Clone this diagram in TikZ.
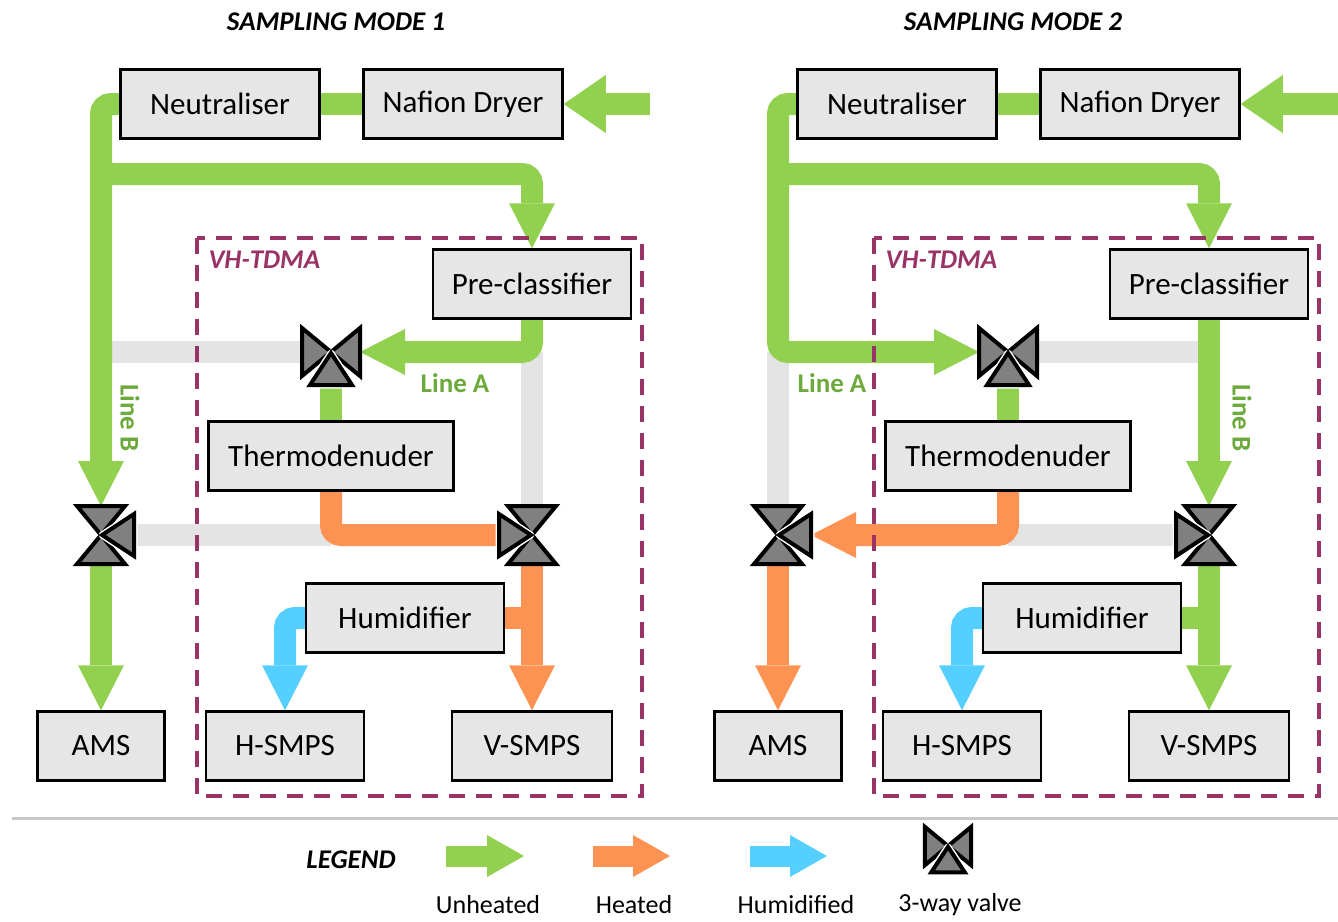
\documentclass[tikz,border=0pt]{standalone}
\usepackage{fontspec}
\setmainfont{Carlito}
\usepackage{tikz}
\usetikzlibrary{positioning,arrows.meta,calc}
\usepackage{xcolor}

\definecolor{unheated}{HTML}{92D050}
\definecolor{heated}{HTML}{FD9352}
\definecolor{humid}{HTML}{55CFFF}
\definecolor{idle}{HTML}{E4E4E4}
\definecolor{boxgray}{HTML}{E6E6E6}
\definecolor{valvegray}{HTML}{808080}
\definecolor{tdma}{HTML}{993366}
\definecolor{linegreen}{HTML}{6DAA3C}

\pgfdeclarelayer{background}
\pgfsetlayers{background,main}

\tikzset{
	unit/.style={draw=black, line width=2.5pt, fill=boxgray, inner sep=0pt,
		minimum height=69pt, font=\fontsize{31}{36}\selectfont},
	pipe/.style={line width=22pt, rounded corners=10pt},
	flow/.style={pipe, -{Triangle[width=46pt,length=45pt,line width=0pt]}},
	inflow/.style={pipe, -{Triangle[width=58pt,length=42pt,line width=0pt]}},
	legendflow/.style={line width=21pt, -{Triangle[width=42pt,length=37pt,line width=0pt]}},
	linelabel/.style={text=linegreen, font=\fontsize{27}{32}\selectfont\bfseries},
	tdmabox/.style={draw=tdma, line width=4pt, dash pattern=on 16pt off 11pt},
	tdmalabel/.style={text=tdma, font=\fontsize{27}{32}\selectfont\bfseries\itshape},
	modetitle/.style={font=\fontsize{27}{32}\selectfont\bfseries\itshape},
	legendtext/.style={font=\fontsize{26}{31}\selectfont},
	valveline/.style={draw=black, fill=valvegray, line width=4pt, line join=miter},
	valve/.pic={
		\filldraw[valveline] (-29,-24) -- (0,0) -- (-29,24) -- cycle
			(29,-24) -- (0,0) -- (29,24) -- cycle;
		\draw[white, line width=7pt, line join=round] (0,1) -- (-21,33) -- (21,33) -- cycle;
		\filldraw[valveline] (0,1) -- (-21,33) -- (21,33) -- cycle;
		\coordinate (-l) at (-29,0);
		\coordinate (-r) at (29,0);
		\coordinate (-b) at (0,33);
	}
}

\begin{document}
\begin{tikzpicture}[x=1pt, y=-1pt]
	
	\useasboundingbox (0,0) rectangle (1338,921);
	
	% sampling mode 1
	\node[modetitle] (title1) at (336,22) {SAMPLING MODE 1};
	
	\node[unit, minimum width=199pt] (neut1) at (220,104) {Neutraliser};
	\node[unit, minimum width=199pt] (dry1) at (463,104) {Nafion Dryer};
	\node[unit, minimum width=198pt] (pre1) at (532,284) {Pre-classifier};
	\node[unit, minimum width=245pt] (td1) at (331,456) {Thermodenuder};
	\node[unit, minimum width=198pt] (hum1) at (405,618) {Humidifier};
	\node[unit, minimum width=127pt] (ams1) at (101,746) {AMS};
	\node[unit, minimum width=158pt] (hsmps1) at (285,746) {H-SMPS};
	\node[unit, minimum width=160pt] (vsmps1) at (532,746) {V-SMPS};
	
	\pic (va1) at (331,352) {valve};
	\pic[rotate=-90] (vb1) at (532,535) {valve};
	\pic[rotate=90] (vc1) at (101,535) {valve};
	
	\coordinate (in1) at (650,104);
	\coordinate (split1) at (101,174);
	
	\draw[tdmabox] (197,238) rectangle (642,796);
	\node[tdmalabel, anchor=west] (tdma1) at (205,260) {VH-TDMA};
	
	\node[linelabel] (la1) at (455,383) {Line A};
	\node[linelabel, rotate=-90] (lb1) at (130,418) {Line B};
	
	\begin{pgfonlayer}{background}
		\draw[pipe, idle] (va1-l) -- (va1-l -| vc1-r);
		\draw[pipe, idle] (pre1.south |- va1-r) -- (vb1-l);
		\draw[pipe, idle] (td1.south |- vb1-b) -- (vc1-b);
		
		\draw[inflow, unheated] (in1) -- (dry1.east);
		\draw[pipe, unheated] (dry1.west) -- (neut1.east);
		\draw[flow, unheated] (neut1.west) -| (vc1-r);
		\draw[flow, unheated] (split1) -| (pre1.north);
		\draw[flow, unheated] (pre1.south) |- (va1-r);
		\draw[pipe, unheated] (va1-b) -- (td1.north);
		\draw[flow, unheated] (vc1-l) -- (ams1.north);
		
		\draw[pipe, heated] (td1.south) |- (vb1-b);
		\draw[pipe, heated] (hum1.east) -- (hum1.east -| vb1-r);
		\draw[flow, heated] (vb1-r) -- (vsmps1.north);
		
		\draw[flow, humid] (hum1.west) -| (hsmps1.north);
	\end{pgfonlayer}
	
	% sampling mode 2
	\begin{scope}[shift={(677,0)}]
		\node[modetitle] (title2) at (336,22) {SAMPLING MODE 2};
		
		\node[unit, minimum width=199pt] (neut2) at (220,104) {Neutraliser};
		\node[unit, minimum width=199pt] (dry2) at (463,104) {Nafion Dryer};
		\node[unit, minimum width=198pt] (pre2) at (532,284) {Pre-classifier};
		\node[unit, minimum width=245pt] (td2) at (331,456) {Thermodenuder};
		\node[unit, minimum width=198pt] (hum2) at (405,618) {Humidifier};
		\node[unit, minimum width=127pt] (ams2) at (101,746) {AMS};
		\node[unit, minimum width=158pt] (hsmps2) at (285,746) {H-SMPS};
		\node[unit, minimum width=160pt] (vsmps2) at (532,746) {V-SMPS};
		
		\pic (va2) at (331,352) {valve};
		\pic[rotate=-90] (vb2) at (532,535) {valve};
		\pic[rotate=90] (vc2) at (101,535) {valve};
		
		\coordinate (in2) at (661,104);
		\coordinate (split2) at (101,174);
		
		\draw[tdmabox] (197,238) rectangle (642,796);
		\node[tdmalabel, anchor=west] (tdma2) at (205,260) {VH-TDMA};
		
		\node[linelabel] (la2) at (155,383) {Line A};
		\node[linelabel, rotate=-90] (lb2) at (565,418) {Line B};
		
		\begin{pgfonlayer}{background}
			\draw[pipe, idle] (va2-r) -- (pre2.south |- va2-r);
			\draw[pipe, idle] (vc2-r |- va2-l) -- (vc2-r);
			\draw[pipe, idle] (td2.south |- vb2-b) -- (vb2-b);
			
			\draw[inflow, unheated] (in2) -- (dry2.east);
			\draw[pipe, unheated] (dry2.west) -- (neut2.east);
			\draw[flow, unheated] (neut2.west) -| (vc2-r |- va2-l) -- (va2-l);
			\draw[flow, unheated] (split2) -| (pre2.north);
			\draw[flow, unheated] (pre2.south) -- (vb2-l);
			\draw[pipe, unheated] (va2-b) -- (td2.north);
			\draw[pipe, unheated] (hum2.east) -- (hum2.east -| vb2-r);
			\draw[flow, unheated] (vb2-r) -- (vsmps2.north);
			
			\draw[flow, heated] (td2.south) |- (vc2-b);
			\draw[flow, heated] (vc2-l) -- (ams2.north);
			
			\draw[flow, humid] (hum2.west) -| (hsmps2.north);
		\end{pgfonlayer}
	\end{scope}
	
	% legend
	\coordinate (sep0) at (12,818);
	\coordinate (sep1) at (1338,818);
	\draw[line width=3pt, black!22] (sep0) -- (sep1);
	
	\node[modetitle] (lgd) at (351,860) {LEGEND};
	
	\coordinate (lgu0) at (446,856);
	\coordinate (lgu1) at (524,856);
	\coordinate (lgh0) at (593,856);
	\coordinate (lgh1) at (670,856);
	\coordinate (lgw0) at (750,856);
	\coordinate (lgw1) at (827,856);
	\draw[legendflow, unheated] (lgu0) -- (lgu1);
	\draw[legendflow, heated] (lgh0) -- (lgh1);
	\draw[legendflow, humid] (lgw0) -- (lgw1);
	\pic[scale=0.8] (lgv) at (948,846) {valve};
	
	\node[legendtext] (lgut) at (488,905) {Unheated};
	\node[legendtext] (lght) at (634,905) {Heated};
	\node[legendtext] (lgwt) at (796,905) {Humidified};
	\node[legendtext] (lgvt) at (960,905) {3-way valve};
	
\end{tikzpicture}
\end{document}
